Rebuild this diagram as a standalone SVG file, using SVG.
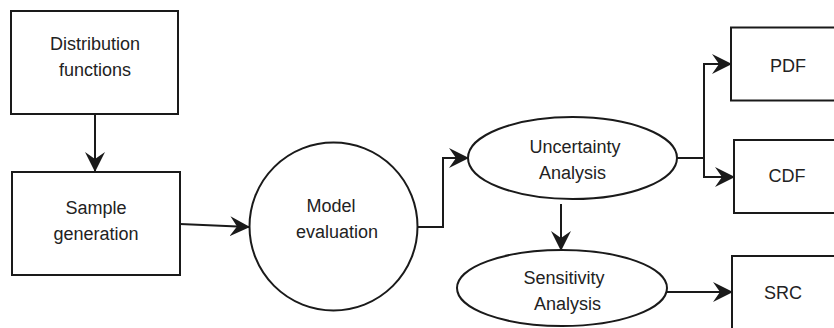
<svg xmlns="http://www.w3.org/2000/svg" width="834" height="328" viewBox="0 0 834 328">
<style>
.shape{fill:#fff;stroke:#1a1a1a;stroke-width:2}
.conn{fill:none;stroke:#1a1a1a;stroke-width:2;marker-end:url(#arr)}
text{font-family:"Liberation Sans",Arial,sans-serif;font-size:18px;fill:#222;text-anchor:middle}
</style>
<defs>
<marker id="arr" markerUnits="userSpaceOnUse" viewBox="0 0 20 20" refX="19" refY="10" markerWidth="20" markerHeight="20" orient="auto">
<path d="M0,0 L20,10 L0,20 L7,10 z" fill="#1a1a1a"/>
</marker>
</defs>
<rect width="834" height="328" fill="#fff"/>
<g id="connectors">
<path class="conn" d="M95,114 L95,171"/>
<path class="conn" d="M180,224 L249,227"/>
<path class="conn" d="M418,227 L443,227 L443,158 L468,158"/>
<path class="conn" d="M677,158 L704,158 L704,64 L731,64"/>
<path class="conn" d="M704,158 L704,177 L734,177"/>
<path class="conn" d="M561,204 L561,250"/>
<path class="conn" d="M667,292 L732,292"/>
</g>
<g id="distribution">
<rect class="shape" x="11" y="11" width="167" height="103"/>
<text x="95" y="49.5">Distribution</text>
<text x="95" y="76">functions</text>
</g>
<g id="sample">
<rect class="shape" x="12" y="172" width="168" height="103"/>
<text x="96" y="213.5">Sample</text>
<text x="96" y="239.5">generation</text>
</g>
<g id="model">
<circle class="shape" cx="333.5" cy="226.5" r="84"/>
<text x="331" y="211.5">Model</text>
<text x="337" y="238">evaluation</text>
</g>
<g id="uncertainty">
<ellipse class="shape" cx="572.5" cy="158" rx="104.5" ry="41"/>
<text x="575" y="152.5">Uncertainty</text>
<text x="572.5" y="179">Analysis</text>
</g>
<g id="sensitivity">
<ellipse class="shape" cx="562" cy="288" rx="105" ry="38"/>
<text x="564" y="283.5">Sensitivity</text>
<text x="567.5" y="310">Analysis</text>
</g>
<g id="pdf">
<rect class="shape" x="731" y="27.5" width="130" height="73"/>
<text x="788" y="71.5">PDF</text>
</g>
<g id="cdf">
<rect class="shape" x="734" y="140" width="130" height="73"/>
<text x="787" y="181.5">CDF</text>
</g>
<g id="src">
<rect class="shape" x="732" y="256" width="130" height="90"/>
<text x="783" y="298.5">SRC</text>
</g>
</svg>
